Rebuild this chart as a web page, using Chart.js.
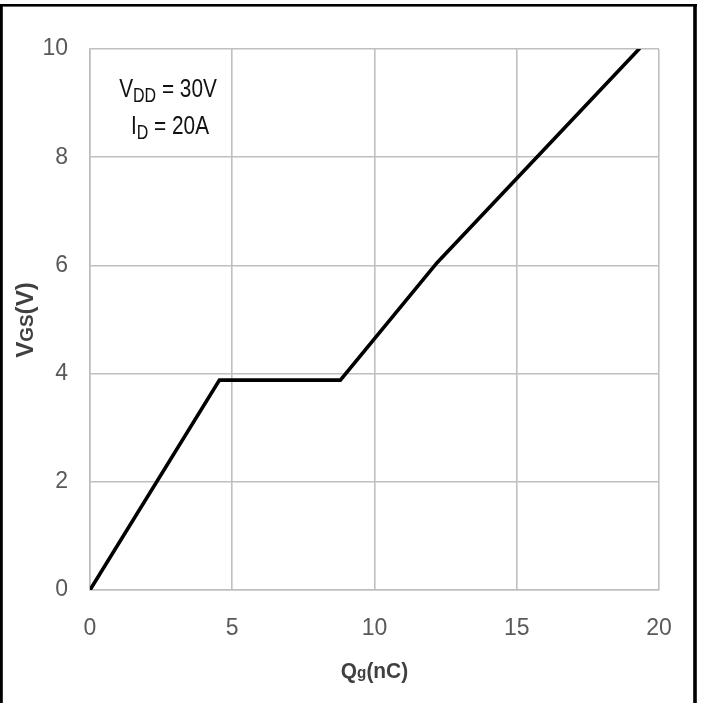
<!DOCTYPE html>
<html>
<head>
<meta charset="utf-8">
<script src="https://cdn.jsdelivr.net/npm/chart.js@4.4.0/dist/chart.umd.min.js"></script>
<style>
html,body{margin:0;padding:0;background:#fff;}
#wrap{width:701px;height:703px;position:relative;}
</style>
</head>
<body>
<div id="wrap"><canvas id="c"></canvas></div>
<script>
// Data
const qg  = [0, 4.55, 8.8, 12.2, 19.3];     // Qg (nC)
const vgs = [0, 3.88, 3.88, 6.05, 10];      // VGS (V)
const xTicks = [0, 5, 10, 15, 20];
const yTicks = [0, 2, 4, 6, 8, 10];
const noteLines = [["V", "DD", " = 30V"], ["I", "D", " = 20A"]];

const points = qg.map((x, i) => ({x: x, y: vgs[i]}));

function drawSub(ctx, parts, x, y, size, subSize, font, weight, subDrop, sx) {
  ctx.save();
  ctx.translate(x, y);
  ctx.scale(sx, 1);
  ctx.textBaseline = 'alphabetic';
  ctx.textAlign = 'left';
  const fMain = weight + ' ' + size + 'px ' + font;
  const fSub = weight + ' ' + subSize + 'px ' + font;
  ctx.font = fMain; const w1 = ctx.measureText(parts[0]).width;
  ctx.font = fSub; const w2 = ctx.measureText(parts[1]).width;
  ctx.font = fMain; const w3 = ctx.measureText(parts[2]).width;
  const total = w1 + w2 + w3;
  const s = -total / 2;
  ctx.font = fMain; ctx.fillText(parts[0], s, 0);
  ctx.font = fSub; ctx.fillText(parts[1], s + w1, subDrop);
  ctx.font = fMain; ctx.fillText(parts[2], s + w1 + w2, 0);
  ctx.restore();
}

const decor = {
  id: 'decor',
  afterDraw(chart) {
    const ctx = chart.ctx;
    const ca = chart.chartArea;
    ctx.save();
    // outer frame
    ctx.fillStyle = '#000';
    ctx.fillRect(0, 4, 697, 2.6);
    ctx.fillRect(0, 4, 2.8, 699);
    ctx.fillRect(693.2, 4, 3.6, 699);
    // annotation
    ctx.fillStyle = '#111';
    const f = '"Liberation Sans", Arial';
    drawSub(ctx, noteLines[0], ca.left + 78, 97, 26, 20, f, 'normal', 5, 0.8);
    drawSub(ctx, noteLines[1], ca.left + 80, 134, 26, 20, f, 'normal', 5, 0.8);
    // x title Qg(nC)
    ctx.fillStyle = '#404040';
    drawSub(ctx, ["Q", "g", "(nC)"], (ca.left + ca.right) / 2, 678, 22, 16, f, 'bold', 0, 0.95);
    // y title VGS(V)
    ctx.translate(33, 320);
    ctx.rotate(-Math.PI / 2);
    drawSub(ctx, ["V", "GS", "(V)"], 0, 0, 23, 18, f, 'bold', 0, 1.05);
    ctx.restore();
  }
};

new Chart(document.getElementById('c'), {
  type: 'scatter',
  data: {
    datasets: [{
      data: points,
      showLine: true,
      borderColor: '#000',
      borderWidth: 3.6,
      borderCapStyle: 'round',
      borderJoinStyle: 'miter',
      pointRadius: 0,
      tension: 0,
      fill: false
    }]
  },
  options: {
    responsive: true,
    maintainAspectRatio: false,
    animation: false,
    devicePixelRatio: 1,
    layout: {padding: {top: 49, right: 42, bottom: 0, left: 0}},
    plugins: {legend: {display: false}, tooltip: {enabled: false}, title: {display: false}},
    scales: {
      x: {
        type: 'linear', min: 0, max: 20,
        afterBuildTicks(s) { s.ticks = xTicks.map(v => ({value: v})); },
        afterFit(s) { s.height = 113; },
        grid: {color: '#bfbfbf', lineWidth: 1.6, drawTicks: false},
        border: {color: '#bfbfbf', width: 1.6},
        ticks: {padding: 25, color: '#595959', font: {family: '"Liberation Sans", Arial', size: 23}, maxRotation: 0}
      },
      y: {
        type: 'linear', min: 0, max: 10,
        afterBuildTicks(s) { s.ticks = yTicks.map(v => ({value: v})); },
        afterFit(s) { s.width = 90; },
        grid: {color: '#bfbfbf', lineWidth: 1.6, drawTicks: false},
        border: {color: '#bfbfbf', width: 1.6},
        ticks: {padding: 22, color: '#595959', font: {family: '"Liberation Sans", Arial', size: 23}}
      }
    }
  },
  plugins: [decor]
});
</script>
</body>
</html>
